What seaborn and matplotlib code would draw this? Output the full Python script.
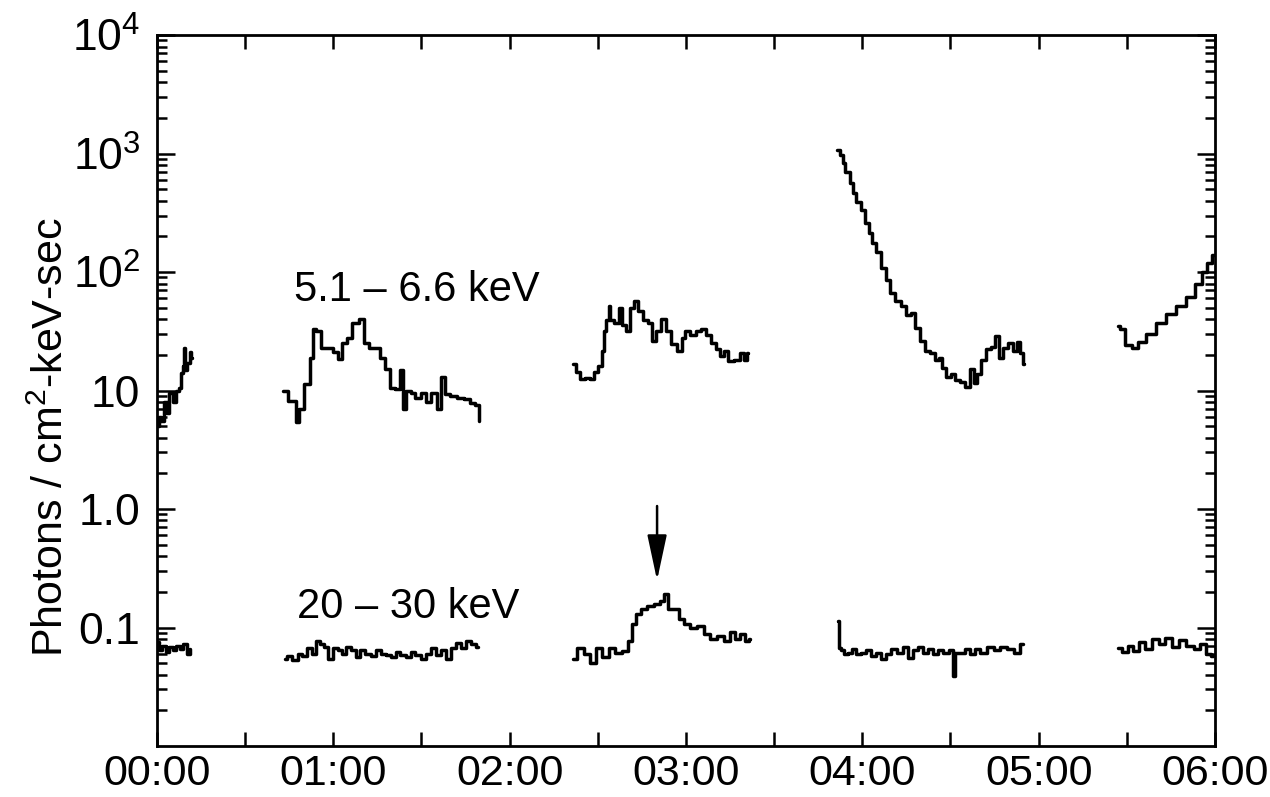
import matplotlib
matplotlib.use("Agg")
import matplotlib.pyplot as plt
import seaborn as sns

# 5.1-6.6 keV 片段 (時間: 小時)
hi_a_t = [0.0, 0.02, 0.03, 0.05, 0.06, 0.08, 0.10, 0.115, 0.13, 0.14, 0.15, 0.155, 0.165, 0.18, 0.19, 0.20]
hi_a_v = [5.0, 6.0, 5.5, 8.0, 6.5, 9.5, 8.0, 10.0, 10.5, 14, 16, 23, 15, 17, 21, 19]

hi_b_t = [0.715, 0.771, 0.805, 0.811, 0.851, 0.879, 0.885, 0.913, 0.953, 0.981, 1.010, 1.038, 1.066,
          1.094, 1.123, 1.163, 1.185, 1.220, 1.254, 1.276, 1.305, 1.339, 1.361, 1.390, 1.395, 1.424,
          1.452, 1.480, 1.509, 1.537, 1.566, 1.605, 1.622, 1.645, 1.679, 1.719, 1.758, 1.787, 1.821, 1.826]
hi_b_v = [10, 8.2, 5.4, 7, 11.4, 19, 33, 32, 23, 23, 21, 18.5, 25.4,
          28, 37.5, 40, 25, 23, 23, 19, 15.3, 10.6, 10.3, 15, 7, 10,
          9.5, 8.7, 9.5, 8, 9.5, 7, 12.9, 9.4, 9, 8.7, 8.5, 7.9, 7.6, 5.5]

hi_c_t = [2.360, 2.388, 2.411, 2.439, 2.467, 2.484, 2.513, 2.530, 2.535, 2.558, 2.564, 2.575, 2.609,
          2.626, 2.643, 2.672, 2.694, 2.717, 2.740, 2.768, 2.796, 2.813, 2.842, 2.870, 2.898, 2.927,
          2.967, 2.984, 3.006, 3.040, 3.069, 3.097, 3.125, 3.154, 3.182, 3.205, 3.222, 3.250, 3.290,
          3.318, 3.335, 3.352]
hi_c_v = [16.9, 14.2, 12.6, 12.8, 12.6, 14.2, 16.2, 21.7, 32, 39, 52, 39, 37,
          50, 36, 32, 50, 57.5, 47, 39, 37, 26.4, 32, 40.5, 32, 24.9,
          21.7, 28, 32, 29.5, 32, 33, 29.5, 25, 22.5, 19.7, 21.7, 17.9, 18,
          20.6, 18, 20.6]

hi_d_t = [3.857, 3.885, 3.891, 3.914, 3.942, 3.948, 3.976, 4.005, 4.027, 4.044, 4.061, 4.090, 4.118,
          4.146, 4.169, 4.203, 4.231, 4.260, 4.288, 4.311, 4.339, 4.368, 4.402, 4.424, 4.441, 4.458,
          4.487, 4.515, 4.538, 4.566, 4.594, 4.623, 4.640, 4.657, 4.685, 4.714, 4.742, 4.765, 4.782,
          4.810, 4.838, 4.867, 4.884, 4.906, 4.918]
hi_d_v = [1067, 968, 828, 695, 561, 461, 387, 332, 258, 212, 175, 147, 109,
          85, 66, 57.5, 52, 43, 45, 34, 26.4, 21.7, 20.7, 18, 19, 15.6,
          12.9, 13.8, 12.2, 11.7, 10.8, 15.3, 11.5, 13.8, 18, 22.6, 23.5, 29, 19,
          23, 25, 21.7, 25.5, 20.6, 16.9]

hi_e_t = [5.451, 5.474, 5.508, 5.547, 5.581, 5.638, 5.695, 5.751, 5.808, 5.865, 5.910, 5.939, 5.967, 5.995]
hi_e_v = [35, 33, 24, 23, 25.5, 30, 37, 44, 52, 62, 79, 100, 120, 138]

# 20-30 keV 片段
lo_a_t = [0.0, 0.02, 0.04, 0.06, 0.08, 0.10, 0.12, 0.14, 0.16, 0.18, 0.19]
lo_a_v = [0.075, 0.065, 0.07, 0.062, 0.068, 0.064, 0.07, 0.066, 0.072, 0.06, 0.066]

lo_b_t = [0.726, 0.754, 0.783, 0.811, 0.839, 0.868, 0.885, 0.913, 0.936, 0.964, 0.981, 1.010, 1.038,
          1.066, 1.083, 1.112, 1.140, 1.168, 1.197, 1.225, 1.254, 1.282, 1.310, 1.339, 1.367, 1.395,
          1.424, 1.452, 1.480, 1.509, 1.537, 1.566, 1.594, 1.622, 1.651, 1.679, 1.707, 1.736, 1.764,
          1.792, 1.821]
lo_b_v = [0.054, 0.057, 0.053, 0.060, 0.057, 0.067, 0.060, 0.077, 0.072, 0.069, 0.054, 0.067, 0.065,
          0.060, 0.069, 0.065, 0.056, 0.065, 0.060, 0.057, 0.065, 0.060, 0.059, 0.056, 0.062, 0.059,
          0.056, 0.062, 0.059, 0.054, 0.060, 0.067, 0.059, 0.065, 0.054, 0.067, 0.074, 0.067, 0.077,
          0.072, 0.069]

lo_c_t = [2.360, 2.399, 2.439, 2.473, 2.501, 2.541, 2.581, 2.615, 2.655, 2.683, 2.700, 2.728, 2.757,
          2.796, 2.836, 2.864, 2.887, 2.910, 2.950, 2.967, 3.006, 3.040, 3.080, 3.120, 3.154, 3.193,
          3.233, 3.261, 3.290, 3.318, 3.347, 3.364]
lo_c_v = [0.054, 0.067, 0.060, 0.050, 0.067, 0.056, 0.067, 0.061, 0.063, 0.077, 0.107, 0.130, 0.143,
          0.151, 0.158, 0.168, 0.192, 0.143, 0.143, 0.118, 0.107, 0.100, 0.103, 0.088, 0.080, 0.084,
          0.077, 0.092, 0.080, 0.088, 0.077, 0.080]

lo_d_t = [3.863, 3.869, 3.885, 3.902, 3.930, 3.948, 3.976, 4.005, 4.033, 4.061, 4.090, 4.118, 4.146,
          4.175, 4.214, 4.243, 4.271, 4.299, 4.328, 4.356, 4.385, 4.413, 4.441, 4.470, 4.509, 4.515,
          4.538, 4.566, 4.594, 4.623, 4.651, 4.685, 4.725, 4.765, 4.799, 4.838, 4.878, 4.912]
lo_d_v = [0.113, 0.067, 0.064, 0.060, 0.061, 0.066, 0.060, 0.061, 0.064, 0.058, 0.061, 0.054, 0.060,
          0.066, 0.061, 0.068, 0.055, 0.064, 0.068, 0.061, 0.066, 0.060, 0.064, 0.061, 0.064, 0.039,
          0.061, 0.061, 0.066, 0.060, 0.066, 0.061, 0.068, 0.064, 0.068, 0.066, 0.061, 0.072]

lo_e_t = [5.451, 5.491, 5.519, 5.547, 5.587, 5.621, 5.661, 5.700, 5.734, 5.774, 5.814, 5.859, 5.899,
          5.933, 5.961, 5.990]
lo_e_v = [0.067, 0.062, 0.070, 0.063, 0.075, 0.066, 0.080, 0.072, 0.082, 0.068, 0.078, 0.070, 0.066,
          0.072, 0.060, 0.058]

hour_ticks = [0, 1, 2, 3, 4, 5, 6]
hour_labels = ["00:00", "01:00", "02:00", "03:00", "04:00", "05:00", "06:00"]
y_ticks = [1e4, 1e3, 1e2, 10, 1.0, 0.1]
y_labels = ["10$^4$", "10$^3$", "10$^2$", "10", "1.0", "0.1"]

# 箭頭位置
arrow_t = 2.836
arrow_top = 1.06
arrow_tip = 0.25

sns.set_theme(style="ticks", rc={"text.color": "black", "axes.labelcolor": "black",
                                 "xtick.color": "black", "ytick.color": "black"})
plt.rcParams["font.family"] = ["Liberation Sans", "DejaVu Sans"]
plt.rcParams["mathtext.fontset"] = "custom"
plt.rcParams["mathtext.rm"] = "Liberation Sans"
plt.rcParams["mathtext.it"] = "Liberation Sans"
plt.rcParams["mathtext.bf"] = "Liberation Sans"

fig = plt.figure(figsize=(12.7, 7.97), dpi=100)
ax = fig.add_axes([0.1236, 0.064, 0.8331, 0.892])

segments = [(hi_a_t, hi_a_v), (hi_b_t, hi_b_v), (hi_c_t, hi_c_v), (hi_d_t, hi_d_v), (hi_e_t, hi_e_v),
            (lo_a_t, lo_a_v), (lo_b_t, lo_b_v), (lo_c_t, lo_c_v), (lo_d_t, lo_d_v), (lo_e_t, lo_e_v)]
for t, v in segments:
    sns.lineplot(x=t, y=v, ax=ax, color="black", linewidth=2.5, estimator=None, sort=False,
                 drawstyle="steps-mid")

ax.set_yscale("log")
ax.set_xlim(0, 6)
ax.set_ylim(0.01, 1e4)

ax.set_xticks(hour_ticks)
ax.set_xticklabels(hour_labels)
ax.set_xticks([0.5, 1.5, 2.5, 3.5, 4.5, 5.5], minor=True)
ax.set_yticks(y_ticks)
ax.set_yticklabels(y_labels)

ax.tick_params(axis="both", which="both", direction="in", top=True, right=True, color="black", width=1.8)
ax.tick_params(axis="x", which="both", length=10, labelsize=31, pad=6)
ax.tick_params(axis="y", which="major", length=13, labelsize=32, pad=12)
ax.tick_params(axis="y", which="minor", length=7)
for s in ax.spines.values():
    s.set_linewidth(2.0)
    s.set_color("black")

ax.set_ylabel("Photons / cm$^2$-keV-sec", fontsize=31)
ax.yaxis.set_label_coords(-0.080, 0.435)

ax.text(1.475, 70, "5.1 – 6.6 keV", fontsize=30, ha="center", va="center")
ax.text(1.424, 0.149, "20 – 30 keV", fontsize=30, ha="center", va="center")

ax.annotate("", xy=(arrow_t, arrow_tip), xytext=(arrow_t, arrow_top),
            arrowprops=dict(arrowstyle="-|>,head_length=1.4,head_width=0.3", color="black",
                            linewidth=1.8, mutation_scale=20, shrinkA=0, shrinkB=0))

fig.savefig("out.png", dpi=100, facecolor="white")
